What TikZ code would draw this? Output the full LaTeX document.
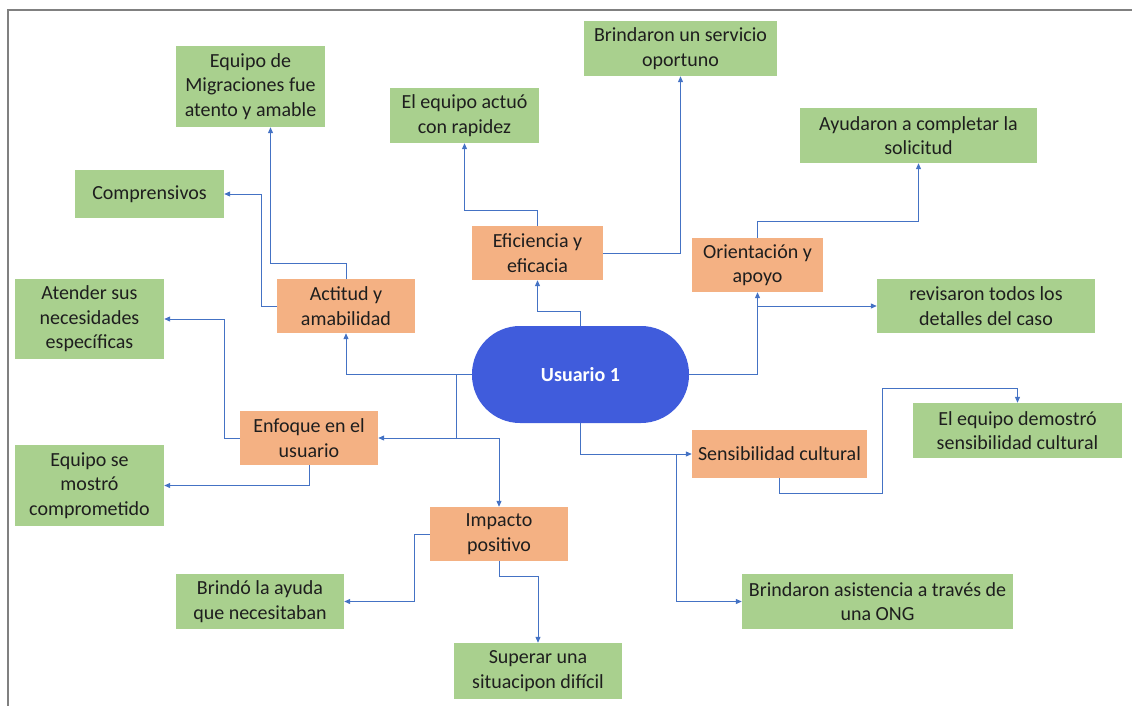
\documentclass[tikz,border=0pt]{standalone}
\usepackage{fontspec}
\setmainfont{Carlito}
\usepackage{tikz}
\usetikzlibrary{arrows.meta,positioning}
\definecolor{mmgreen}{RGB}{169,208,142}
\definecolor{mmorange}{RGB}{244,177,131}
\definecolor{mmblue}{RGB}{64,92,220}
\definecolor{mmlink}{RGB}{68,114,196}
\definecolor{mmgray}{RGB}{128,128,128}
\definecolor{mmtext}{RGB}{30,30,30}

\begin{document}
\begin{tikzpicture}[x=1pt,y=-1pt,
  leaf/.style={fill=mmgreen, inner sep=0pt, align=center, text=mmtext,
    font=\fontsize{20}{24.5}\selectfont},
  cat/.style={fill=mmorange, inner sep=0pt, align=center, text=mmtext,
    font=\fontsize{20}{24.5}\selectfont},
  link/.style={mmlink, line width=1pt, -{Triangle[length=6pt,width=5pt]}}]
\useasboundingbox (0,0) rectangle (1132,706);
% Frame
\draw[mmgray, line width=1.5pt] (8,706) -- (8,10) -- (1132,10);
% Centre
\node[fill=mmblue, rounded corners=48pt, minimum width=217pt, minimum height=97pt,
  text=white, font=\fontsize{20}{24}\selectfont\bfseries] (user) at (580.5,374.5) {Usuario 1};
% Categories
\node[cat, minimum width=138pt, minimum height=54pt] (act) at (346,306) {Actitud y\\amabilidad};
\node[cat, minimum width=131pt, minimum height=54pt] (efi) at (537.5,253) {Eficiencia y\\eficacia};
\node[cat, minimum width=131pt, minimum height=54pt] (ori) at (757.5,265) {Orientación y\\apoyo};
\node[cat, minimum width=138pt, minimum height=54pt] (enf) at (309,438) {Enfoque en el\\usuario};
\node[cat, minimum width=138pt, minimum height=54pt] (imp) at (499,534) {Impacto\\positivo};
\node[cat, minimum width=175pt, minimum height=48pt] (sens) at (779.5,454) {Sensibilidad cultural};
% Leaves
\node[leaf, minimum width=149pt, minimum height=81pt] (eqmig) at (250.5,86.5) {Equipo de\\Migraciones fue\\atento y amable};
\node[leaf, minimum width=149pt, minimum height=48pt] (comp) at (149.5,194) {Comprensivos};
\node[leaf, minimum width=149pt, minimum height=80pt] (aten) at (89.5,319) {Atender sus\\necesidades\\específicas};
\node[leaf, minimum width=149pt, minimum height=81pt] (mostro) at (89.5,485.5) {Equipo se\\mostró\\comprometido};
\node[leaf, minimum width=168pt, minimum height=55pt] (brindo) at (260,601.5) {Brindó la ayuda\\que necesitaban};
\node[leaf, minimum width=168pt, minimum height=56pt] (sup) at (538,671) {Superar una\\situacipon difícil};
\node[leaf, minimum width=149pt, minimum height=55pt] (rap) at (464.5,115.5) {El equipo actuó\\con rapidez};
\node[leaf, minimum width=193pt, minimum height=55pt] (serv) at (680.5,48.5) {Brindaron un servicio\\oportuno};
\node[leaf, minimum width=237pt, minimum height=55pt] (ayu) at (918.5,135.5) {Ayudaron a completar la\\solicitud};
\node[leaf, minimum width=218pt, minimum height=54pt] (rev) at (986,306) {revisaron todos los\\detalles del caso};
\node[leaf, minimum width=209pt, minimum height=55pt] (demo) at (1017.5,430.5) {El equipo demostró\\sensibilidad cultural};
\node[leaf, minimum width=271pt, minimum height=55pt] (asis) at (877.5,601.5) {Brindaron asistencia a través de\\una ONG};
% Connectors from the centre
\coordinate (jl) at ([xshift=-15pt]user.west);
\draw[link] (user.west) -| (act.south);
\draw[link] (jl) |- (enf.east);
\draw[link] (jl |- enf.east) -| (imp.north);
\draw[link] (user.north) -- ++(0,-14) -| (efi.south);
\draw[link] (user.east) -| (ori.south);
\draw[link] (ori.south |- rev.west) -- (rev.west);
\draw[link] (user.south) |- (sens.west);
\draw[link] ([xshift=-15pt]sens.west) |- (asis.west);
% Connectors to the leaves
\draw[link] (act.north) -- ++(0,-15) -| ([xshift=20pt]eqmig.south);
\draw[link] (act.west) -- ++(-15,0) |- (comp.east);
\draw[link] (enf.west) -- ++(-15,0) |- (aten.east);
\draw[link] (enf.south) |- (mostro.east);
\draw[link] (imp.west) -- ++(-15,0) |- (brindo.east);
\draw[link] (imp.south) -- ++(0,15) -| (sup.north);
\draw[link] (efi.north) -- ++(0,-15) -| (rap.south);
\draw[link] (efi.east) -| (serv.south);
\draw[link] (ori.north) -- ++(0,-16) -| (ayu.south);
\draw[link] (sens.south) -- ++(0,15) -- ++(103,0) |- ([yshift=14pt]demo.north) -- (demo.north);
\end{tikzpicture}
\end{document}
